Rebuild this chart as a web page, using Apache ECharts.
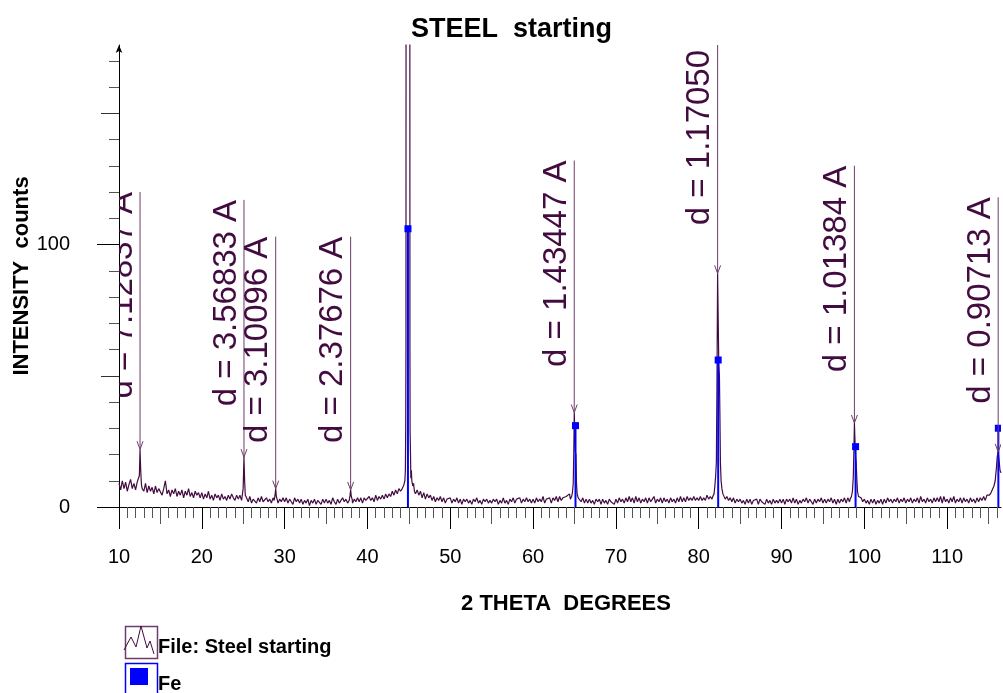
<!DOCTYPE html>
<html>
<head>
<meta charset="utf-8">
<title>STEEL starting</title>
<script src="https://cdn.jsdelivr.net/npm/echarts@6/dist/echarts.min.js"></script>
<style>
  html, body { margin: 0; padding: 0; background: #fff; }
  #chart { width: 1003px; height: 693px; }
</style>
</head>
<body>
<div id="chart"></div>
<script>
// scan grid of the background counts (2 theta, degrees)
const scanStart = 10.0
const scanStep = 0.2

// background counts, one row per 5 degrees
const backgroundCounts = [
  9, 6.5, 10, 7, 9.5, 6, 8.5, 10.5, 7, 9, 6.5, 9.5, 8, 10, 7, 6, 9, 5.5, 8, 6, 7.5, 5, 8, 5.5, 7,
  6.5, 4.5, 7, 10, 5, 6.5, 4, 6.5, 5, 7, 4, 6, 4.5, 6.5, 3.5, 6, 4.5, 7, 4, 5.5, 3.5, 6, 4.5, 5.5, 3.5,
  5.5, 3, 5, 3.5, 6, 3, 4.5, 2.5, 5, 3.5, 4.5, 2.5, 5, 3, 4, 2.5, 4.5, 3, 5, 3.5, 2.5, 4.5, 3, 4.5, 2.5,
  3.5, 1.5, 3.5, 2, 4, 1.5, 3, 2.5, 1.5, 3.5, 2, 4, 2, 1.5, 3.5, 2, 3, 1.5, 3.5, 2.5, 3.5, 1.5, 3, 2, 3.5,
  2, 3.5, 1.5, 3, 2, 1, 3.5, 2, 3, 1.5, 3, 1, 2.5, 1.5, 3, 0.5, 2.5, 1.5, 3, 1, 2.5, 2, 1, 3, 1.5,
  3, 1.5, 2.5, 1, 3.5, 2, 1, 3, 1.5, 2.5, 3.5, 2, 3, 1.5, 2.5, 3.5, 1.5, 3, 2, 3.5, 2, 3.5, 1.5, 3.5, 2.5,
  2, 4, 2.5, 3.5, 2, 4.5, 2.5, 4, 3, 4.5, 3, 5, 3.5, 5, 4, 6, 4.5, 6.5, 5, 7, 7, 8, 10, 14, 30,
  10, 11, 8, 7, 5, 6.5, 4.5, 6, 3.5, 5.5, 3, 5, 3.5, 4.5, 2.5, 4, 2, 3.5, 2.5, 4, 2, 3.5, 1.5, 3, 2.5,
  3.5, 1.5, 3, 2, 3.5, 1.5, 3, 1, 3, 2, 3, 1.5, 2.5, 1, 3, 2, 3.5, 1.5, 2.5, 1, 3, 2, 3, 1.5, 2.5,
  1.5, 3, 2, 3, 1, 2.5, 1.5, 3.5, 1.5, 2.5, 1, 3, 2, 3.5, 1.5, 3, 2.5, 3.5, 1.5, 3, 2, 3.5, 2, 3, 1.5,
  3, 1.5, 3.5, 2, 3, 2, 4, 1.5, 3, 2.5, 3.5, 1.5, 3.5, 2.5, 4, 2, 4, 2.5, 3.5, 3, 4, 4, 5, 7, 15,
  12, 5, 3.5, 3.5, 2, 3.5, 1.5, 3, 1.5, 3, 1.5, 2.5, 1, 3, 2, 3, 1, 3, 1.5, 2.5, 1, 3, 2, 2.5, 1,
  3, 1.5, 3.5, 2, 3, 1.5, 3.5, 2, 4, 2, 3.5, 1.5, 4, 2, 3.5, 1.5, 3, 2, 3.5, 1.5, 3.5, 2, 3, 4, 1.5,
  3, 2, 3.5, 1.5, 3.5, 2, 3, 1.5, 3.5, 2, 3, 1.5, 3.5, 2, 4, 2, 3.5, 2, 4, 2.5, 3.5, 2.5, 4, 2.5, 3.5,
  2.5, 4, 2.5, 3.5, 2.5, 4.5, 3, 4, 3, 5, 10, 40, 60, 20, 8, 5.5, 3, 4, 2.5, 3.5, 2, 3.5, 1.5, 3, 2,
  3, 1.5, 2.5, 1, 3, 1.5, 3, 1, 2.5, 2, 3, 1, 3, 2, 2.5, 1, 3, 1.5, 2.5, 1, 3, 1.5, 2.5, 1.5, 3,
  1.5, 3, 1, 3, 2, 3, 1.5, 3.5, 1.5, 3, 1, 2.5, 1.5, 3, 2, 3.5, 1.5, 3, 2, 1, 3, 1.5, 3, 2, 3.5,
  1.5, 3, 1.5, 3, 2, 3.5, 1.5, 3, 1, 3, 1.5, 3, 2, 3.5, 1.5, 3.5, 2, 3.5, 2.5, 4.5, 20, 15, 3.5, 3.5, 2,
  3, 1.5, 2.5, 1, 3, 1.5, 3, 1, 2.5, 1.5, 3, 1, 3, 1.5, 3.5, 2, 3, 1.5, 3, 2, 3.5, 1.5, 3, 2, 3.5,
  1.5, 3, 2, 3.5, 1.5, 3, 2, 3.5, 1.5, 4, 2, 3, 1.5, 3.5, 2, 3, 1.5, 3.5, 2, 3.5, 2, 4, 1.5, 4, 2,
  3, 1.5, 3.5, 2, 4, 1.5, 3, 2, 3.5, 1.5, 3.5, 2, 3, 1.5, 3.5, 2, 3, 1.5, 3.5, 2, 3.5, 2.5, 4, 2.5, 4.5,
  4.5, 5, 6, 8, 11, 16, 19, 16
]

// peak profiles [2 theta, counts]; they replace the background inside their range
const peak12 = [[12.36, 9], [12.46, 12], [12.54, 22], [12.62, 14], [12.71, 8.5]]
const peak25 = [[24.87, 4], [24.99, 7], [25.09, 19], [25.17, 10], [25.25, 4.5]]
const peak29 = [[28.74, 2.5], [28.84, 4.5], [28.92, 7], [29.0, 4], [29.09, 3]]
const peak38 = [[37.8, 2.5], [37.9, 4.5], [37.97, 6.5], [38.05, 4], [38.15, 3]]
const peak45 = [[44.0, 6], [44.2, 7], [44.4, 8.5], [44.52, 10], [44.58, 14], [44.62, 30], [44.65, 61],
  [44.68, 400], [44.77, 900], [44.89, 1000], [45.02, 900], [45.1, 400], [45.13, 60], [45.15, 29],
  [45.2, 20], [45.24, 11], [45.3, 14], [45.36, 10], [45.47, 8], [45.57, 9], [45.67, 6]]
const peak65 = [[64.5, 3], [64.65, 4], [64.75, 5.5], [64.85, 9], [64.92, 22], [64.97, 36], [65.03, 30],
  [65.1, 21], [65.17, 20], [65.24, 9], [65.32, 5], [65.45, 3.5], [65.6, 3]]
const peak82 = [[81.7, 4], [81.85, 5], [81.95, 8], [82.05, 12], [82.13, 17], [82.2, 45], [82.28, 89],
  [82.35, 72], [82.42, 55], [82.5, 50], [82.56, 35], [82.62, 17], [82.7, 10], [82.8, 7], [82.92, 5]]
const peak99 = [[98.29, 3], [98.44, 4], [98.56, 6], [98.66, 11], [98.74, 22], [98.8, 32], [98.87, 25],
  [98.94, 19], [99.01, 17], [99.09, 11], [99.17, 6], [99.29, 4], [99.39, 3.5]]
const peak116 = [[114.9, 4], [115.1, 4.5], [115.3, 5.5], [115.5, 6], [115.65, 8], [115.8, 10],
  [115.95, 15], [116.04, 19], [116.16, 21], [116.26, 18], [116.38, 14], [116.5, 13]]
const peakProfiles = [peak12, peak25, peak29, peak38, peak45, peak65, peak82, peak99, peak116]

// d-spacing annotations
const dLabels = ['d = 7.12837 A', 'd = 3.56833 A', 'd = 3.10096 A', 'd = 2.37676 A',
  'd = 1.43447 A', 'd = 1.17050 A', 'd = 1.01384 A', 'd = 0.90713 A']
const dAngles = [12.54, 25.09, 28.92, 37.97, 64.97, 82.28, 98.8, 116.16]
const dTips = [22, 19, 7, 6.5, 36, 89, 32, 21]
const dTops = [120, 117, 103, 103, 132, 186, 130, 118]

// Fe reference lines
const feAngles = [44.89, 65.12, 82.35, 98.94, 116.18]
const feCounts = [106, 31, 56, 23, 30]

// axis ticks / labels
const xLabelValues = [10, 20, 30, 40, 50, 60, 70, 80, 90, 100, 110]
const xMidTicks = [15, 25, 35, 45, 55, 65, 75, 85, 95, 105, 115]
const yLabelValues = [0, 100]
const yMidTicks = [50, 150]

const xMinorTicks = []
for (let v = 11; v <= 116; v++) if (v % 5 !== 0) xMinorTicks.push(v)
const yMinorTicks = []
for (let v = 10; v <= 170; v += 10) if (v % 50 !== 0) yMinorTicks.push(v)

// build the scan: background outside peak ranges + the peak profiles
const scan = []
backgroundCounts.forEach((c, i) => {
  const x = +(scanStart + i * scanStep).toFixed(2)
  const inPeak = peakProfiles.some(p => x >= p[0][0] && x <= p[p.length - 1][0])
  if (!inPeak) scan.push([x, c])
})
peakProfiles.forEach(p => p.forEach(pt => scan.push(pt)))
scan.sort((a, b) => a[0] - b[0])

const FONT = '"Liberation Sans", Arial, sans-serif'
const PURPLE = '#420c40'
const PURPLE_LINE = '#6e3d6b'
const BLUE = '#0000ff'

const xMin = 10
const xMax = 116.5
const yMin = 0
const yMax = 176

const baseX = {
  type: 'value', min: xMin, max: xMax, position: 'bottom',
  splitLine: { show: false },
  axisLine: { show: false },
  axisLabel: { show: false }
}
const baseY = {
  type: 'value', min: yMin, max: yMax, position: 'left',
  splitLine: { show: false },
  axisLine: { show: false },
  axisLabel: { show: false }
}

const chart = echarts.init(document.getElementById('chart'), null, { renderer: 'canvas' })

chart.setOption({
  animation: false,
  backgroundColor: '#fff',
  title: {
    text: 'STEEL  starting',
    left: 406,
    top: 11,
    textStyle: { fontFamily: FONT, fontSize: 27, fontWeight: 'bold', color: '#000' }
  },
  grid: { left: 119, right: 2, top: 45, bottom: 186, containLabel: false, outerBoundsMode: 'none' },
  xAxis: [
    {
      ...baseX,
      name: '2 THETA  DEGREES',
      nameLocation: 'middle',
      nameGap: 86,
      nameMoveOverlap: false,
      nameTextStyle: { fontFamily: FONT, fontSize: 22, fontWeight: 'bold', color: '#000', padding: [0, 0, 0, 12] },
      axisLine: { show: true, lineStyle: { color: '#000', width: 1 } },
      axisTick: { show: true, customValues: xLabelValues, length: 22, lineStyle: { color: '#000' } },
      axisLabel: { show: true, customValues: xLabelValues, margin: 8, padding: [32, 0, 0, 0], fontFamily: FONT, fontSize: 20, color: '#000' }
    },
    { ...baseX, axisTick: { show: true, customValues: xMidTicks, length: 17, lineStyle: { color: '#555' } } },
    { ...baseX, axisTick: { show: true, customValues: xMinorTicks, length: 11, lineStyle: { color: '#555' } } }
  ],
  yAxis: [
    {
      ...baseY,
      name: 'INTENSITY  counts',
      nameLocation: 'middle',
      nameGap: 86,
      nameMoveOverlap: false,
      nameTextStyle: { fontFamily: FONT, fontSize: 22, fontWeight: 'bold', color: '#000' },
      axisLine: { show: true, symbol: ['none', 'arrow'], symbolSize: [5, 8], lineStyle: { color: '#000', width: 1 } },
      axisTick: { show: true, customValues: yLabelValues, length: 22, lineStyle: { color: '#000' } },
      axisLabel: { show: true, customValues: yLabelValues, margin: 49, fontFamily: FONT, fontSize: 20, color: '#000' }
    },
    { ...baseY, axisTick: { show: true, customValues: yMidTicks, length: 18, lineStyle: { color: '#333' } } },
    { ...baseY, axisTick: { show: true, customValues: yMinorTicks, length: 10, lineStyle: { color: '#555' } } }
  ],
  graphic: [
    { type: 'rect', left: 123, top: 624, shape: { width: 32, height: 32 }, style: { fill: 'none', stroke: PURPLE_LINE, lineWidth: 1.5 } },
    { type: 'polyline', shape: { points: [[124, 650], [131, 637], [136, 647], [141, 626], [147, 648], [150, 641], [154, 654]] },
      style: { fill: 'none', stroke: PURPLE, lineWidth: 1 } },
    { type: 'text', x: 158, y: 647, style: { text: 'File: Steel starting', font: 'bold 20px ' + FONT, fill: '#000', verticalAlign: 'middle' } },
    { type: 'rect', left: 123, top: 661, shape: { width: 32, height: 34 }, style: { fill: 'none', stroke: BLUE, lineWidth: 1.5 } },
    { type: 'rect', left: 130, top: 668, shape: { width: 18, height: 17 }, style: { fill: BLUE } },
    { type: 'text', x: 158, y: 684, style: { text: 'Fe', font: 'bold 20px ' + FONT, fill: '#000', verticalAlign: 'middle' } }
  ],
  series: [
    {
      name: 'File: Steel starting',
      type: 'line',
      data: scan,
      showSymbol: false,
      clip: true,
      lineStyle: { color: PURPLE, width: 1.2 },
      z: 2
    },
    {
      name: 'Fe',
      type: 'custom',
      clip: true,
      data: feAngles.map((a, i) => [a, feCounts[i]]),
      renderItem: (params, api) => {
        const top = api.coord([api.value(0), api.value(1)])
        const base = api.coord([api.value(0), 0])
        return {
          type: 'group',
          children: [
            { type: 'rect', shape: { x: top[0] - 1, y: top[1], width: 2, height: base[1] - top[1] }, style: { fill: BLUE } },
            { type: 'rect', shape: { x: top[0] - 3.5, y: top[1] - 3.5, width: 7, height: 7 }, style: { fill: BLUE } }
          ]
        }
      },
      z: 3
    },
    {
      name: 'd spacing',
      type: 'custom',
      clip: true,
      data: dAngles.map((a, i) => [a, dTips[i], dTops[i]]),
      encode: { x: 0, y: [1, 2] },
      renderItem: (params, api) => {
        const tip = api.coord([api.value(0), api.value(1)])
        const top = api.coord([api.value(0), api.value(2)])
        const px = tip[0]
        return {
          type: 'group',
          children: [
            { type: 'line', shape: { x1: px, y1: top[1], x2: px, y2: tip[1] }, style: { stroke: PURPLE_LINE, lineWidth: 1 } },
            { type: 'polyline', shape: { points: [[px - 3, tip[1] - 8], [px, tip[1]], [px + 3, tip[1] - 8]] },
              style: { fill: 'none', stroke: PURPLE_LINE, lineWidth: 1 } },
            { type: 'text', x: px - 1, y: top[1], rotation: Math.PI / 2,
              style: { text: dLabels[params.dataIndex], font: '33px ' + FONT, fill: PURPLE, align: 'right', verticalAlign: 'bottom' } }
          ]
        }
      },
      z: 4
    }
  ]
})

window.addEventListener('resize', () => chart.resize())
</script>
</body>
</html>
